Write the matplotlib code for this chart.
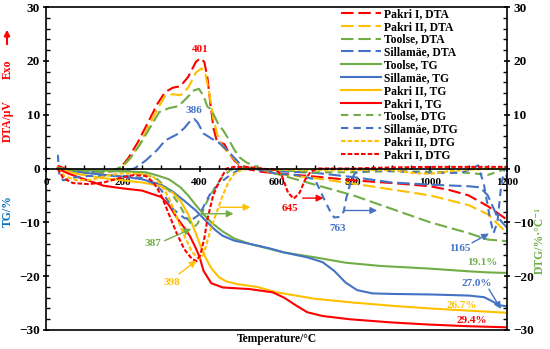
import matplotlib
matplotlib.use("Agg")
import matplotlib.pyplot as plt
from matplotlib.ticker import MultipleLocator

plt.rcParams['font.family'] = ['Liberation Serif', 'DejaVu Serif']
plt.rcParams['font.weight'] = 'bold'

RED = '#FF0000'
ORANGE = '#FFC000'
GREEN = '#70AD47'
BLUE = '#4472C4'

# ---------------- DTA (long dash) ----------------
dta_pakri1_t = [30, 50, 100, 150, 190, 215, 240, 265, 290, 310, 330, 350, 370, 390, 402, 412, 420, 428, 436, 445, 455, 465, 475, 490, 510, 530, 560, 600, 700, 800, 900, 1000, 1050, 1100, 1150, 1200]
dta_pakri1_v = [0.5, 0.0, -0.7, -0.8, -0.2, 2.0, 5.0, 8.5, 12.0, 14.2, 15.0, 15.3, 17.0, 19.8, 20.5, 19.8, 17.0, 12.0, 7.5, 5.0, 4.8, 4.5, 3.0, 1.5, 0.3, -0.2, -0.6, -0.9, -1.5, -2.2, -2.7, -3.3, -4.0, -5.0, -7.0, -9.5]

dta_pakri2_t = [30, 60, 100, 150, 190, 215, 240, 265, 290, 310, 330, 350, 370, 390, 405, 415, 425, 435, 445, 460, 480, 500, 520, 550, 600, 700, 800, 900, 1000, 1100, 1150, 1200]
dta_pakri2_v = [0.2, -0.4, -0.8, -0.9, -0.2, 1.5, 4.0, 7.5, 11.0, 13.5, 13.8, 13.6, 15.0, 17.8, 18.6, 17.5, 14.0, 9.5, 6.5, 4.0, 2.5, 1.0, 0.3, 0.0, -1.0, -1.8, -2.8, -3.9, -5.0, -6.8, -8.5, -12.0]

dta_toolse_t = [30, 60, 100, 150, 180, 200, 220, 245, 270, 295, 320, 345, 365, 385, 398, 410, 420, 430, 440, 450, 460, 475, 490, 505, 520, 540, 560, 600, 700, 800, 900, 1000, 1100, 1150, 1200]
dta_toolse_v = [0.1, -0.3, -0.6, -0.6, -0.2, 0.5, 2.0, 4.5, 7.5, 10.5, 11.2, 11.6, 13.0, 14.5, 14.8, 13.5, 11.5, 11.0, 9.5, 8.0, 7.2, 5.5, 3.5, 2.0, 1.2, 0.5, 0.0, -1.0, -3.0, -5.0, -7.5, -10.0, -12.0, -13.2, -13.5]

dta_sillamae_t = [30, 60, 100, 150, 200, 230, 260, 290, 310, 340, 360, 375, 386, 395, 410, 430, 450, 470, 490, 510, 530, 560, 600, 700, 800, 900, 1000, 1100, 1130, 1150, 1175, 1200]
dta_sillamae_v = [0.0, -0.4, -0.5, -0.5, -0.5, 0.0, 1.5, 3.5, 5.2, 6.3, 7.5, 8.8, 9.2, 8.5, 6.5, 5.6, 4.8, 3.5, 2.0, 0.5, 0.0, -0.3, -0.5, -0.8, -1.6, -2.6, -3.0, -3.3, -3.5, -5.0, -9.0, -11.0]

# ---------------- TG (solid) ----------------
tg_toolse_t = [30, 100, 200, 260, 290, 320, 350, 370, 390, 410, 430, 460, 490, 530, 580, 620, 700, 780, 870, 1000, 1100, 1150, 1200]
tg_toolse_v = [0.0, -0.3, -0.5, -0.7, -1.3, -2.0, -3.5, -5.0, -6.8, -8.5, -10.0, -11.7, -13.0, -14.0, -14.9, -15.6, -16.5, -17.5, -18.1, -18.6, -19.1, -19.3, -19.4]

tg_sillamae_t = [30, 100, 200, 250, 300, 330, 360, 390, 420, 440, 460, 490, 530, 580, 620, 680, 720, 750, 780, 810, 850, 900, 1000, 1100, 1140, 1160, 1180, 1200]
tg_sillamae_v = [0.0, -0.8, -1.5, -2.0, -3.0, -4.3, -6.0, -7.8, -10.0, -11.4, -12.5, -13.4, -14.0, -14.8, -15.6, -16.5, -17.4, -19.0, -21.2, -22.6, -23.2, -23.3, -23.4, -23.6, -23.9, -24.6, -25.4, -25.6]

tg_pakri2_t = [30, 80, 150, 200, 250, 300, 330, 350, 370, 390, 400, 415, 430, 450, 470, 500, 550, 600, 650, 700, 800, 900, 1000, 1100, 1200]
tg_pakri2_v = [0.0, -1.0, -1.8, -2.2, -2.6, -3.3, -4.5, -6.0, -8.5, -12.0, -14.0, -16.5, -18.5, -20.2, -21.0, -21.5, -22.0, -23.0, -23.6, -24.2, -24.9, -25.5, -26.0, -26.4, -26.8]

tg_pakri1_t = [30, 60, 100, 150, 200, 250, 300, 320, 340, 360, 375, 390, 400, 410, 430, 460, 530, 590, 620, 650, 680, 720, 790, 900, 1000, 1100, 1200]
tg_pakri1_v = [0.0, -1.0, -2.0, -3.2, -3.7, -4.1, -5.3, -6.8, -9.1, -11.0, -12.6, -14.8, -16.5, -19.0, -21.3, -22.1, -22.4, -23.0, -24.0, -25.4, -26.7, -27.4, -28.0, -28.6, -29.0, -29.3, -29.5]

# ---------------- DTG (short dash) ----------------
dtg_toolse_t = [30, 100, 200, 250, 290, 320, 345, 365, 380, 387, 395, 405, 420, 440, 460, 480, 500, 530, 600, 700, 800, 900, 1000, 1100, 1150, 1180, 1200]
dtg_toolse_v = [0.0, -0.5, -0.5, -0.8, -2.0, -4.0, -6.5, -9.0, -10.5, -10.8, -10.2, -8.5, -6.0, -3.5, -1.5, -0.3, 0.0, 0.0, -0.3, -0.7, -0.7, -0.5, -0.6, -0.8, -1.2, -0.5, 0.0]

dtg_sillamae_t = [29, 31, 35, 45, 70, 110, 160, 210, 250, 280, 300, 330, 360, 380, 400, 425, 450, 480, 500, 520, 560, 600, 650, 700, 722, 740, 750, 765, 775, 782, 795, 805, 850, 900, 1000, 1080, 1110, 1125, 1140, 1155, 1165, 1175, 1185, 1195, 1200]
dtg_sillamae_v = [2.4, 2.4, -1.5, -2.2, -1.7, -1.4, -1.3, -1.4, -1.8, -2.8, -4.0, -7.5, -9.2, -9.5, -8.5, -5.0, -2.8, -1.2, -0.3, 0.2, -0.3, -1.0, -1.2, -2.0, -5.4, -8.0, -9.1, -9.0, -8.0, -5.4, -2.0, -0.8, -0.3, -0.5, -0.8, -0.8, 0.0, 0.6, -3.0, -9.0, -12.0, -10.0, -3.0, 0.3, -2.0]

dtg_pakri2_t = [30, 50, 80, 120, 160, 200, 250, 280, 300, 320, 340, 360, 380, 398, 410, 420, 430, 445, 460, 475, 490, 510, 540, 600, 700, 800, 900, 950, 1000, 1050, 1100, 1200]
dtg_pakri2_v = [0.0, -1.5, -2.2, -2.1, -1.3, -0.9, -1.0, -1.6, -3.0, -5.5, -9.0, -12.5, -15.5, -16.8, -16.0, -13.5, -11.0, -8.0, -5.0, -2.5, -1.0, -0.2, 0.0, -0.2, -0.3, -0.3, -0.3, -0.8, -1.0, -0.5, -0.2, 0.0]

dtg_pakri1_t = [30, 45, 70, 110, 150, 190, 230, 260, 280, 300, 320, 340, 360, 380, 392, 402, 412, 420, 435, 450, 470, 490, 520, 560, 600, 615, 630, 645, 660, 675, 690, 710, 800, 900, 1000, 1100, 1200]
dtg_pakri1_v = [0.0, -1.8, -2.7, -2.9, -2.6, -1.8, -1.2, -1.4, -2.6, -5.0, -8.5, -12.0, -15.0, -16.8, -17.2, -16.0, -13.0, -9.5, -5.0, -2.5, 0.0, 0.3, 0.3, 0.0, -0.3, -1.5, -4.5, -5.6, -4.5, -2.0, -0.5, 0.0, 0.0, 0.2, 0.3, 0.3, 0.3]

LONG = (0, (6, 2.3))
MED = (0, (3.5, 2.5))
SHORT = (0, (2.2, 1.0))

series = [
    (dta_pakri1_t, dta_pakri1_v, RED, LONG, 'Pakri I, DTA'),
    (dta_pakri2_t, dta_pakri2_v, ORANGE, LONG, 'Pakri II, DTA'),
    (dta_toolse_t, dta_toolse_v, GREEN, LONG, 'Toolse, DTA'),
    (dta_sillamae_t, dta_sillamae_v, BLUE, LONG, 'Sillamäe, DTA'),
    (tg_toolse_t, tg_toolse_v, GREEN, '-', 'Toolse, TG'),
    (tg_sillamae_t, tg_sillamae_v, BLUE, '-', 'Sillamäe, TG'),
    (tg_pakri2_t, tg_pakri2_v, ORANGE, '-', 'Pakri II, TG'),
    (tg_pakri1_t, tg_pakri1_v, RED, '-', 'Pakri I, TG'),
    (dtg_toolse_t, dtg_toolse_v, GREEN, MED, 'Toolse, DTG'),
    (dtg_sillamae_t, dtg_sillamae_v, BLUE, MED, 'Sillamäe, DTG'),
    (dtg_pakri2_t, dtg_pakri2_v, ORANGE, SHORT, 'Pakri II, DTG'),
    (dtg_pakri1_t, dtg_pakri1_v, RED, SHORT, 'Pakri I, DTG'),
]

fig = plt.figure(figsize=(5.5, 3.49), dpi=100)
ax = fig.add_axes([46/550, 1-330/349, 461/550, 323/349])

for t, v, c, ls, lab in series:
    ax.plot(t, v, color=c, linestyle=ls, lw=1.5, label=lab)

ax.set_xlim(0, 1200)
ax.set_ylim(-30, 30)
ax.xaxis.set_major_locator(MultipleLocator(200))
ax.xaxis.set_minor_locator(MultipleLocator(50))
ax.yaxis.set_major_locator(MultipleLocator(10))
ax.yaxis.set_minor_locator(MultipleLocator(2))
ax.spines['bottom'].set_position(('data', 0))
for s in ax.spines.values():
    s.set_linewidth(1.2)
ax.plot([0, 1], [0, 0], transform=ax.transAxes, color='black', lw=1.2, clip_on=False)
ax.tick_params(axis='both', which='major', direction='inout', length=5, width=1.2)
ax.tick_params(axis='both', which='minor', direction='in', length=3, width=1.0)
ax.tick_params(axis='y', which='both', right=True, labelright=True, labelsize=9.5, pad=2)
ax.tick_params(axis='x', which='major', pad=4, labelsize=8)
for lbl in ax.xaxis.get_majorticklabels() + ax.yaxis.get_majorticklabels():
    lbl.set_fontweight('bold')

leg = ax.legend(loc='upper left', bbox_to_anchor=(0.640, 0.997), frameon=False,
                handlelength=3.4, labelspacing=0.07, borderpad=0,
                borderaxespad=0, handletextpad=0.3,
                prop={'weight': 'bold', 'size': 8.4})

# axis labels
fig.text(8/550, 1-121/349, 'DTA/μV', color=RED, rotation=90, ha='center', va='center', fontsize=8.4, fontweight='bold')
fig.text(8/550, 1-69/349, 'Exo', color=RED, rotation=90, ha='center', va='center', fontsize=8.4, fontweight='bold')
fig.text(8/550, 1-211/349, 'TG/%', color='#0070C0', rotation=90, ha='center', va='center', fontsize=8.4, fontweight='bold')
fig.text(540/550, 1-241/349, 'DTG/%·°C⁻¹', color=GREEN, rotation=90, ha='center', va='center', fontsize=8.4, fontweight='bold')
fig.text(277/550, 1-339/349, 'Temperature/°C', ha='center', va='center', fontsize=8.3, fontweight='bold')
ax.annotate('', xy=(7/550, 1-27/349), xytext=(7/550, 1-47/349), xycoords='figure fraction',
            arrowprops=dict(arrowstyle='-|>', color=RED, lw=1.5, mutation_scale=8))

# annotations
fs = 8
ax.text(401, 21.2, '401', color=RED, ha='center', va='bottom', fontsize=fs, fontweight='bold')
ax.text(385, 10.0, '386', color=BLUE, ha='center', va='bottom', fontsize=fs, fontweight='bold')
ax.text(636, -7.5, '645', color=RED, ha='center', va='center', fontsize=fs, fontweight='bold')
ax.text(758, -11.2, '763', color=BLUE, ha='center', va='center', fontsize=fs, fontweight='bold')
ax.text(279, -13.9, '387', color=GREEN, ha='center', va='center', fontsize=fs, fontweight='bold')
ax.text(328, -21.2, '398', color=ORANGE, ha='center', va='center', fontsize=fs, fontweight='bold')
ax.text(1078, -14.9, '1165', color=BLUE, ha='center', va='center', fontsize=fs, fontweight='bold')
ax.text(1135, -17.4, '19.1%', color=GREEN, ha='center', va='center', fontsize=fs, fontweight='bold')
ax.text(1122, -21.4, '27.0%', color=BLUE, ha='center', va='center', fontsize=fs, fontweight='bold')
ax.text(1083, -25.4, '26.7%', color=ORANGE, ha='center', va='center', fontsize=fs, fontweight='bold')
ax.text(1109, -28.3, '29.4%', color=RED, ha='center', va='center', fontsize=fs, fontweight='bold')

def arrow(x0, y0, x1, y1, c):
    ax.annotate('', xy=(x1, y1), xytext=(x0, y0),
                arrowprops=dict(arrowstyle='-|>', color=c, lw=1.0, mutation_scale=10,
                                shrinkA=0, shrinkB=0))

arrow(668, -5.5, 722, -5.5, RED)
arrow(775, -7.8, 862, -7.8, BLUE)
arrow(309, -13.4, 378, -11.2, GREEN)
arrow(346, -19.6, 392, -17.1, ORANGE)
arrow(408, -8.4, 488, -8.4, GREEN)
arrow(452, -7.2, 532, -7.2, ORANGE)
arrow(1109, -13.8, 1153, -12.1, BLUE)
arrow(1153, -22.4, 1184, -26.1, BLUE)

fig.savefig('out.png', dpi=100)
